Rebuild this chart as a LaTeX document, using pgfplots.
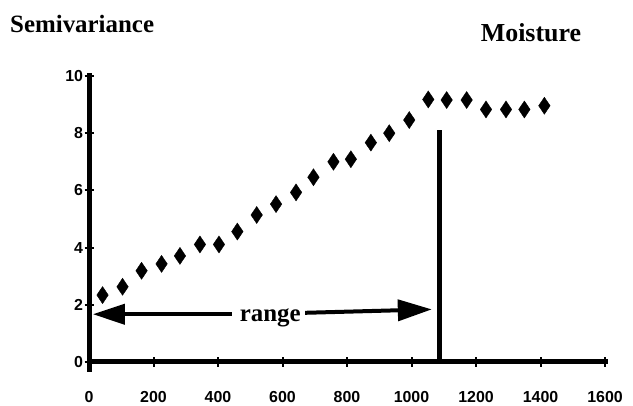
\documentclass[border=0pt]{standalone}
\usepackage{fontspec}
\setmainfont{Liberation Serif}
\newfontfamily\ticksf{Liberation Sans}
\usepackage{pgfplots}
\pgfplotsset{compat=1.18}
\usetikzlibrary{arrows.meta}
\begin{document}
\begin{tikzpicture}
\useasboundingbox (0,0) rectangle (633bp,406bp);
\begin{axis}[
  at={(89bp,44bp)}, anchor=south west,
  scale only axis, width=516bp, height=286bp,
  xmin=0, xmax=1600, ymin=0, ymax=10,
  axis x line=bottom, axis y line=left,
  axis line style={line width=5bp, -, line cap=rect},
  xtick={0,200,...,1600}, ytick={0,2,...,10},
  tick align=center, major tick length=9bp,
  tick style={line width=2bp, black},
  ticklabel style={font=\ticksf\bfseries\fontsize{16}{16}\selectfont},
  yticklabel style={xshift=2bp},
  /pgf/number format/assume math mode=true,
  /pgf/number format/1000 sep={},
  xticklabel style={yshift=-21bp},
  clip=false,
]
\addplot[only marks, mark=diamond*, mark size=8.5bp,
  mark options={fill=black, draw=black, line width=0.4bp, xscale=0.9}]
  coordinates {
  (42,2.34)(104,2.63)(163,3.19)(225,3.43)(282,3.71)(344,4.11)(403,4.11)
  (460,4.56)(520,5.14)(580,5.52)(642,5.93)(696,6.46)(758,7.0)(812,7.09)
  (874,7.67)(931,8.0)(993,8.46)(1052,9.18)(1109,9.16)(1171,9.16)
  (1231,8.83)(1293,8.83)(1350,8.83)(1412,8.96)};
\addplot[no marks, line width=5bp] coordinates {(1088,0)(1088,8.1)};
\addplot[no marks, line width=5bp] coordinates {(0,0)(0,-0.35)};
\addplot[no marks, line width=4bp, -{Triangle[length=32bp,width=20bp]}]
  coordinates {(442,1.67)(12,1.67)};
\addplot[no marks, line width=4bp, -{Triangle[length=34bp,width=21bp]}]
  coordinates {(670,1.72)(1063,1.84)};
\node[font=\bfseries\fontsize{25}{25}\selectfont, inner sep=0pt] at (axis cs:562,1.54) {range};
\end{axis}
\node[anchor=west, inner sep=0pt, font=\bfseries\fontsize{25}{25}\selectfont] at (10bp,382bp) {Semivariance};
\node[inner sep=0pt, font=\bfseries\fontsize{26}{26}\selectfont] at (531bp,373bp) {Moisture};
\end{tikzpicture}
\end{document}
